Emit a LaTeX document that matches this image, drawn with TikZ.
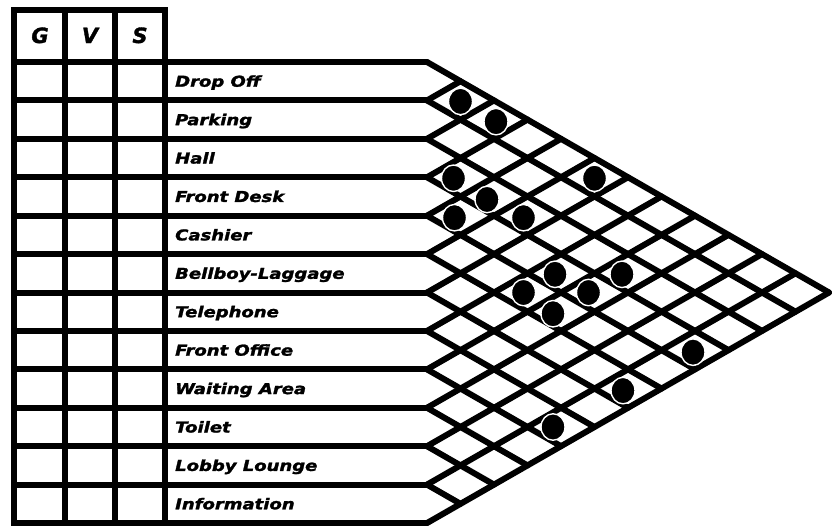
\documentclass[tikz,border=0pt]{standalone}
\usepackage{fontspec}
\newfontfamily\lblfont{DejaVu Sans Bold Oblique}[FakeBold=1.6]
\usetikzlibrary{shapes.geometric}
\tikzset{
  gridline/.style={line width=6pt, line cap=round, line join=round},
  tabline/.style={line width=6pt, line cap=rect, line join=miter},
  rowlabel/.style={anchor=base west, inner sep=0pt, font=\lblfont\fontsize{15}{15}\selectfont},
  headlabel/.style={anchor=base, inner sep=0pt, font=\lblfont\fontsize{21}{21}\selectfont},
  reldot/.style={ellipse, minimum width=24pt, minimum height=26.5pt, inner sep=0pt, fill=black, draw=white, line width=1.4pt}
}
\begin{document}
\begin{tikzpicture}[x=1pt,y=-1pt]
\useasboundingbox (0,0) rectangle (837,528);
\def\L{427}
\def\P{38.42}
\def\H{33.5}
\def\T{62}
\def\B{523}
% left table (G V S columns)
\draw[tabline] (14,10) -- (165,10);
\foreach \x in {14,65,115,165} {
  \draw[tabline] (\x,10) -- (\x,\B);
}
% row boundaries and notched label arrows
\foreach \k in {0,...,12} {
  \pgfmathsetmacro\yk{\T+\P*\k}
  \draw[tabline] (14,\yk) -- (\L-3,\yk);
  \coordinate (n\k) at (\L,\yk);
  \draw[gridline] (\L-3,\yk) -- (n\k);
}
\foreach \k in {0,...,11} {
  \pgfmathsetmacro\yk{\T+\P*\k}
  \pgfmathsetmacro\xe{\L+(12-\k)*\H}
  \pgfmathsetmacro\ye{(\yk+\B)/2}
  \coordinate (dr\k) at (\xe,\ye);
  \draw[gridline] (n\k) -- (dr\k);
}
\foreach \k in {1,...,12} {
  \pgfmathsetmacro\yk{\T+\P*\k}
  \pgfmathsetmacro\xe{\L+\k*\H}
  \pgfmathsetmacro\ye{(\yk+\T)/2}
  \coordinate (ur\k) at (\xe,\ye);
  \draw[gridline] (n\k) -- (ur\k);
}
% header letters
\node[headlabel] (hG) at (40,43) {G};
\node[headlabel] (hV) at (90,43) {V};
\node[headlabel] (hS) at (140,43) {S};
% row labels
\foreach \i/\t in {0/Drop Off,1/Parking,2/Hall,3/Front Desk,4/Cashier,5/Bellboy-Laggage,6/Telephone,7/Front Office,8/Waiting Area,9/Toilet,10/Lobby Lounge,11/Information} {
  \pgfmathsetmacro\yb{\T+\P*(\i+0.5)+5.5}
  \node[rowlabel] (lab\i) at (175,\yb) {\scalebox{1.2}[1]{\t}};
}
% relationship dots: row i, row j, x tweak, y tweak
\foreach \i/\j/\dx/\dy [count=\n] in {0/1/0/1, 0/2/2/2, 2/3/-7/1, 2/4/-7/3, 0/5/0/1, 3/4/-6/2, 2/5/-4/2, 3/7/-6/1, 2/8/-6/1, 4/7/-4/0, 3/8/-6/0, 4/8/-8/2, 3/11/-2/2, 5/11/-5/2, 7/11/-8/0} {
  \pgfmathsetmacro\cx{\L+(\j-\i)*\H+\dx}
  \pgfmathsetmacro\cy{\T+\P*(\i+\j+1)/2+\dy}
  \node[reldot] (dot\n) at (\cx,\cy) {};
}
\end{tikzpicture}
\end{document}
